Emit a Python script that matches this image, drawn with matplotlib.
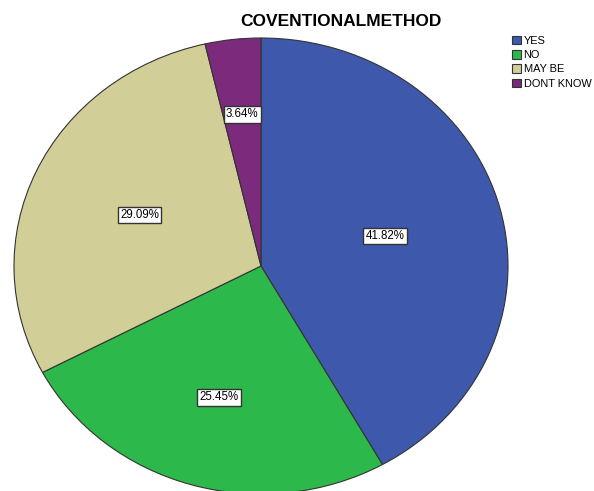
import matplotlib
matplotlib.use('Agg')
import matplotlib.pyplot as plt
from matplotlib.patches import Patch
import numpy as np

plt.rcParams['font.family'] = ['Liberation Sans', 'DejaVu Sans']

# 数据
labels = ['YES', 'NO', 'MAY BE', 'DONT KNOW']
counts = [23, 14, 16, 2]
colors = ['#3e58ac', '#2db84b', '#d2ce97', '#7b2a7c']
title = 'COVENTIONALMETHOD'

W, H = 594, 491
cx, cy = 261, 266   # 圆心像素
rx, ry = 247, 228   # 椭圆半径像素

fig = plt.figure(figsize=(W / 100, H / 100), dpi=100)
ax = fig.add_axes([0, 0, 1, 1])
wedges, _ = ax.pie(counts, colors=colors, startangle=90, counterclock=False,
                   wedgeprops=dict(edgecolor='#333333', linewidth=0.8))
ax.set_aspect('auto')
ax.set_xlim(-cx / rx, (W - cx) / rx)
ax.set_ylim((cy - H) / ry, cy / ry)
ax.axis('off')

# 百分比标签
total = sum(counts)
label_r = [0.52, 0.6, 0.54, 0.67]
for w, c, r in zip(wedges, counts, label_r):
    ang = np.deg2rad((w.theta1 + w.theta2) / 2)
    ax.text(r * np.cos(ang), r * np.sin(ang), f'{c / total * 100:.2f}%',
            ha='center', va='center', fontsize=8.3,
            bbox=dict(boxstyle='square,pad=0.2', fc='white', ec='#333333', lw=1.0))

fig.text(341 / W, 1 - 21 / H, title, ha='center', va='center',
         fontsize=12.5, fontweight='bold')

handles = [Patch(facecolor=c, edgecolor='#333333', linewidth=0.8) for c in colors]
fig.legend(handles, labels, loc='upper left', bbox_to_anchor=(512 / W, 1 - 36 / H),
           frameon=False, fontsize=7.9, handlelength=0.8, handleheight=0.8,
           handletextpad=0.25, labelspacing=0.38, borderpad=0, borderaxespad=0)

fig.savefig('out.png', dpi=100)
